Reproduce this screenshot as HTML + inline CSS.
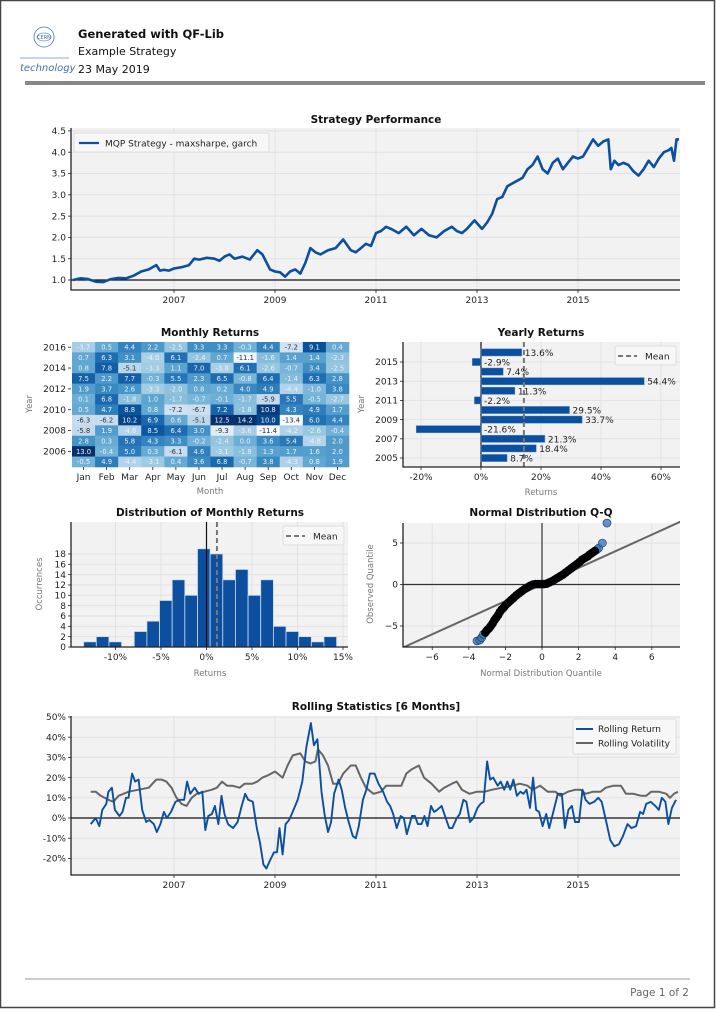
<!DOCTYPE html>
<html><head><meta charset="utf-8">
<style>
html,body{margin:0;padding:0;background:#fff;}
body{width:716px;height:1009px;overflow:hidden;position:relative;font-family:"DejaVu Sans","Liberation Sans",sans-serif;}
svg text{font-family:"DejaVu Sans","Liberation Sans",sans-serif;}
</style></head>
<body>
<svg id="page" width="716" height="1009" viewBox="0 0 716 1009" xmlns="http://www.w3.org/2000/svg">
<rect x="0.5" y="0.5" width="714" height="1007" fill="#fff" stroke="#444" stroke-width="1.5"/>
<g>
  <g>
    <circle cx="44" cy="37" r="10" fill="none" stroke="#6a8fc0" stroke-width="1"/>
    <ellipse cx="44" cy="37" rx="7" ry="4" fill="none" stroke="#6a8fc0" stroke-width="0.7"/>
    <text x="44" y="39" font-size="5" text-anchor="middle" fill="#4a6fa8">CERN</text>
    <line x1="20" y1="58" x2="69" y2="58" stroke="#6a8fc0" stroke-width="0.7"/>
    <text x="20" y="71" font-size="10" font-style="italic" fill="#4a6fa8">technology</text>
  </g>
  <text x="78" y="38" font-size="11.5" font-weight="bold" fill="#111">Generated with QF-Lib</text>
  <text x="78" y="55" font-size="11" fill="#111">Example Strategy</text>
  <text x="78" y="73" font-size="11" fill="#111">23 May 2019</text>
  <rect x="25" y="81" width="680" height="4" fill="#888"/>
</g>
<g id="charts"></g>
<line x1="25" y1="979" x2="690" y2="979" stroke="#999" stroke-width="1"/>
<text x="689" y="996" font-size="10.5" fill="#666" text-anchor="end">Page 1 of 2</text>
</svg>
<script>
// ---------- DATA ----------
const perfYears = [2005.0,2005.15,2005.3,2005.45,2005.6,2005.75,2005.9,2006.05,2006.2,2006.35,2006.5,2006.65,2006.72,2006.8,2006.9,2007.0,2007.15,2007.3,2007.4,2007.5,2007.65,2007.8,2007.9,2008.0,2008.1,2008.2,2008.35,2008.5,2008.65,2008.75,2008.9,2009.0,2009.1,2009.2,2009.3,2009.4,2009.5,2009.6,2009.7,2009.8,2009.9,2010.05,2010.2,2010.35,2010.5,2010.6,2010.7,2010.8,2010.9,2011.0,2011.1,2011.2,2011.3,2011.45,2011.6,2011.75,2011.9,2012.05,2012.2,2012.35,2012.5,2012.6,2012.7,2012.8,2012.95,2013.1,2013.2,2013.3,2013.4,2013.5,2013.6,2013.75,2013.9,2014.0,2014.1,2014.2,2014.3,2014.4,2014.5,2014.6,2014.7,2014.8,2014.9,2015.0,2015.1,2015.2,2015.3,2015.4,2015.5,2015.6,2015.65,2015.72,2015.8,2015.9,2016.0,2016.1,2016.2,2016.3,2016.4,2016.5,2016.6,2016.7,2016.8,2016.85,2016.9,2016.95,2017.0];
const perfValues = [1.0,1.04,1.02,0.96,0.95,1.02,1.05,1.04,1.1,1.2,1.25,1.35,1.22,1.24,1.22,1.27,1.3,1.35,1.5,1.48,1.52,1.5,1.45,1.55,1.6,1.5,1.55,1.48,1.7,1.6,1.25,1.2,1.18,1.08,1.2,1.25,1.15,1.4,1.75,1.65,1.6,1.7,1.75,1.95,1.7,1.65,1.75,1.85,1.8,2.1,2.15,2.25,2.2,2.1,2.25,2.05,2.2,2.05,2.0,2.15,2.25,2.15,2.1,2.2,2.4,2.2,2.35,2.55,2.9,2.95,3.2,3.3,3.4,3.6,3.7,3.9,3.6,3.5,3.75,3.85,3.6,3.75,3.9,3.85,3.9,4.1,4.3,4.15,4.25,4.3,3.6,3.8,3.7,3.75,3.7,3.55,3.45,3.6,3.8,3.65,3.85,4.0,4.05,4.1,3.8,4.3,4.3];
const perfTicksY = [1.0,1.5,2.0,2.5,3.0,3.5,4.0,4.5];
const yearTicks = [2007,2009,2011,2013,2015];

const heatYears = [2016,2015,2014,2013,2012,2011,2010,2009,2008,2007,2006,2005];
const monthNames = ["Jan","Feb","Mar","Apr","May","Jun","Jul","Aug","Sep","Oct","Nov","Dec"];
const heatValues = [
[-3.7,0.5,4.4,2.2,-2.5,3.3,3.3,-0.3,4.4,-7.2,9.1,0.4],
[0.7,6.3,3.1,-4.0,6.1,-2.4,0.7,-11.1,-1.6,1.4,1.4,-2.3],
[0.8,7.8,-5.1,-3.3,1.1,7.0,-3.8,6.1,-2.6,-0.7,3.4,-2.5],
[7.5,2.2,7.7,-0.3,5.5,2.3,6.5,-0.8,6.4,-1.4,6.3,2.8],
[1.9,3.7,2.6,-3.3,-2.0,0.8,0.2,4.0,4.9,-4.4,-1.0,3.8],
[0.1,6.8,-1.8,1.0,-1.7,-0.7,-0.1,-1.7,-5.9,5.5,-0.5,-2.7],
[0.5,4.7,8.8,0.8,-7.2,-6.7,7.2,-1.8,10.8,4.3,4.9,1.7],
[-6.3,-6.2,10.2,6.9,0.6,-5.1,12.5,14.2,10.0,-13.4,6.0,4.4],
[-5.8,1.9,-4.6,8.5,6.4,3.0,-9.3,-3.6,-11.4,-4.2,-2.6,-0.4],
[2.8,0.3,5.8,4.3,3.3,-0.2,-2.4,-0.0,3.6,5.4,-4.8,2.0],
[13.0,-0.4,5.0,0.3,-6.1,4.6,-3.1,-1.8,1.3,1.7,1.6,2.0],
[-0.5,4.9,-4.4,-3.1,0.4,3.6,6.8,-0.7,3.8,-4.3,0.8,1.9]];
const heatYearTicks = [2016,2014,2012,2010,2008,2006];

const yearlyYears = [2005,2006,2007,2008,2009,2010,2011,2012,2013,2014,2015,2016];
const yearlyValues = [8.7,18.4,21.3,-21.6,33.7,29.5,-2.2,11.3,54.4,7.4,-2.9,13.6];
const yearlyMean = 14.3;
const yearlyTicksX = [-20,0,20,40,60];
const yearlyTicksY = [2005,2007,2009,2011,2013,2015];

const histStart = -13.5;
const histWidth = 1.39;
const histCounts = [1,2,1,0,3,5,9,13,10,19,18,13,15,10,13,4,3,2,1,2];
const histMean = 1.15;
const histTicksX = [-10,-5,0,5,10,15];
const histTicksY = [0,2,4,6,8,10,12,14,16,18];

const qqTheory = [-3.55,-3.4,-3.3,-3.2,-3.1,-3.0,-2.9,-2.8,-2.7,-2.6,-2.5,-2.4,-2.3,-2.2,-2.1,-2.0,-1.85,-1.7,-1.55,-1.4,-1.25,-1.1,-0.95,-0.8,-0.65,-0.5,-0.35,-0.2,-0.05,0.1,0.25,0.4,0.55,0.7,0.85,1.0,1.15,1.3,1.45,1.6,1.75,1.9,2.05,2.2,2.35,2.5,2.6,2.7,2.8,2.9,3.0,3.1,3.3,3.55];
const qqObserved = [-6.8,-6.7,-6.4,-6.0,-5.8,-5.5,-5.3,-5.0,-4.7,-4.3,-4.0,-3.7,-3.3,-3.0,-2.8,-2.5,-2.2,-1.9,-1.6,-1.3,-1.05,-0.8,-0.55,-0.35,-0.15,0.0,0.05,0.05,0.05,0.05,0.1,0.25,0.4,0.6,0.8,1.0,1.2,1.45,1.7,1.95,2.2,2.45,2.7,3.0,3.2,3.4,3.6,3.75,3.9,4.05,4.2,4.4,5.0,7.4];
const qqTicksX = [-6,-4,-2,0,2,4,6];
const qqTicksY = [-5,0,5];

const rollRetYears = [2005.35,2005.45,2005.52,2005.58,2005.66,2005.7,2005.77,2005.83,2005.92,2005.98,2006.05,2006.1,2006.17,2006.23,2006.3,2006.37,2006.45,2006.51,2006.6,2006.66,2006.73,2006.8,2006.86,2006.94,2007.03,2007.11,2007.2,2007.26,2007.32,2007.41,2007.49,2007.56,2007.62,2007.68,2007.75,2007.81,2007.88,2007.94,2008.0,2008.07,2008.17,2008.26,2008.34,2008.41,2008.47,2008.56,2008.64,2008.7,2008.77,2008.83,2008.9,2008.98,2009.04,2009.09,2009.15,2009.21,2009.28,2009.35,2009.45,2009.54,2009.62,2009.71,2009.77,2009.84,2009.92,2009.98,2010.05,2010.11,2010.17,2010.26,2010.32,2010.39,2010.46,2010.54,2010.6,2010.66,2010.74,2010.81,2010.88,2010.97,2011.05,2011.14,2011.22,2011.28,2011.34,2011.41,2011.49,2011.55,2011.61,2011.71,2011.77,2011.83,2011.9,2011.96,2012.02,2012.09,2012.15,2012.21,2012.3,2012.38,2012.45,2012.51,2012.6,2012.66,2012.73,2012.79,2012.86,2012.93,2013.01,2013.07,2013.13,2013.2,2013.26,2013.32,2013.41,2013.47,2013.54,2013.6,2013.66,2013.72,2013.79,2013.86,2013.92,2013.98,2014.05,2014.11,2014.17,2014.23,2014.3,2014.37,2014.43,2014.51,2014.6,2014.68,2014.74,2014.81,2014.88,2014.94,2015.02,2015.09,2015.15,2015.23,2015.32,2015.4,2015.47,2015.56,2015.64,2015.72,2015.81,2015.89,2015.98,2016.06,2016.15,2016.23,2016.29,2016.35,2016.44,2016.53,2016.6,2016.66,2016.73,2016.79,2016.86,2016.94];
const rollRetValues = [-3,0,-4,4,7,13,15,4,1,3,10,10,22,18,19,4,-2,-1,-3,-7,-3,3,0,3,8,9,9,18,12,15,12,13,-6,1,2,6,-3,11,2,-3,-5,-2,6,12,9,8,-5,-12,-23,-25,-21,-17,-17,-5,-18,-3,-1,3,9,18,35,47,36,39,13,2,-7,-2,12,19,14,5,-2,-9,-10,-4,9,14,22,22,17,13,8,6,2,-5,1,0,-8,1,1,-3,-3,1,-4,6,3,4,6,0,-5,-5,0,2,9,8,-2,0,5,7,8,28,19,20,16,18,14,18,14,19,11,13,12,14,5,20,4,3,-4,2,-5,3,12,12,-5,4,6,-2,-2,14,9,7,8,10,8,-2,-11,-14,-13,-9,-3,-5,-4,3,2,7,8,6,4,10,8,-3,5,9];
const rollVolYears = [2005.35,2005.45,2005.55,2005.7,2005.8,2005.9,2006.1,2006.3,2006.5,2006.65,2006.75,2006.85,2006.95,2007.05,2007.15,2007.25,2007.35,2007.45,2007.6,2007.75,2007.85,2007.95,2008.05,2008.15,2008.3,2008.4,2008.55,2008.65,2008.75,2008.85,2009.0,2009.15,2009.25,2009.35,2009.5,2009.6,2009.7,2009.8,2009.85,2009.95,2010.05,2010.15,2010.25,2010.35,2010.5,2010.6,2010.7,2010.8,2010.95,2011.1,2011.2,2011.35,2011.5,2011.6,2011.7,2011.85,2011.95,2012.1,2012.25,2012.35,2012.5,2012.6,2012.7,2012.85,2013.0,2013.15,2013.3,2013.5,2013.7,2013.85,2014.0,2014.1,2014.25,2014.4,2014.55,2014.65,2014.8,2014.95,2015.05,2015.15,2015.3,2015.45,2015.55,2015.7,2015.85,2015.95,2016.1,2016.25,2016.35,2016.45,2016.6,2016.75,2016.82,2016.9,2016.98];
const rollVolValues = [13,13,11,9,8,11,13,14,15,19,19,18,15,10,7,6,10,12,13,14,15,18,16,16,15,17,17,18,20,21,23,20,26,31,32,28,27,28,34,31,26,17,17,22,26,26,20,15,12,13,16,16,16,22,24,26,20,17,13,15,17,18,14,12,13,13,14,15,16,17,16,14,16,13,13,11,13,14,14,12,13,13,15,16,16,12,12,11,11,13,13,12,10,12,13];
const rollTicksY = [-20,-10,0,10,20,30,40,50];

// ---------- HELPERS ----------
const NS = "http://www.w3.org/2000/svg";
const root = document.getElementById('charts');
function mk(tag, attrs, parent) {
  const e = document.createElementNS(NS, tag);
  for (const k in attrs) e.setAttribute(k, attrs[k]);
  (parent || root).appendChild(e);
  return e;
}
function txt(s, attrs, parent) { const e = mk('text', attrs, parent); e.textContent = s; return e; }
const BLUE = '#0b4f9e', GREY = '#666', BG = '#f2f2f2', GRID = '#e2e2e2', TICKC = '#222';
const yrX = y => 73 + (y - 2005) * 50.5;

function frame(g, x0, y0, x1, y1) {
  const r = mk('rect', {x:x0, y:y0, width:x1-x0, height:y1-y0, fill:BG}, g);
  
  
}
function spines(g, x0, y0, x1, y1) {
  const s = mk('path', {d:`M${x0},${y0} V${y1} H${x1}`, fill:'none', stroke:'#222', 'stroke-width':1.3}, g);
  
  
}
function title(g, s, x, y) {
  const t = txt(s, {x:x, y:y, 'font-size':10.5, 'font-weight':'bold', 'text-anchor':'middle', fill:'#111'}, g);
  
  
}
function xtick(g, x, y, label) {
  mk('line', {x1:x, x2:x, y1:y, y2:y+3, stroke:TICKC, 'stroke-width':0.8}, g);
  const t = txt(label, {x:x, y:y+13, 'font-size':9, 'text-anchor':'middle', fill:'#222'}, g);
  
  
}
function ytick(g, x, y, label) {
  mk('line', {x1:x-3, x2:x, y1:y, y2:y, stroke:TICKC, 'stroke-width':0.8}, g);
  const t = txt(label, {x:x-5, y:y+3.2, 'font-size':9, 'text-anchor':'end', fill:'#222'}, g);
  
  
}
function axLabel(g, s, x, y, rot) {
  const a = {x:x, y:y, 'font-size':8.5, 'text-anchor':'middle', fill:'#777'};
  if (rot) a.transform = `rotate(-90 ${x} ${y})`;
  const t = txt(s, a, g);
  
  
}

// ---------- STRATEGY PERFORMANCE ----------
(function(){
  const g = mk('g', {});
  
  
  const x0=71, x1=680, y0=128, y1=290;
  const yv = v => 280 - (v - 1.0) * 42.6;
  frame(g, x0, y0, x1, y1);
  title(g, 'Strategy Performance', 376, 123);
  yearTicks.forEach(y => mk('line', {x1:yrX(y), x2:yrX(y), y1:y0, y2:y1, stroke:GRID}, g));
  perfTicksY.forEach(v => mk('line', {x1:x0, x2:x1, y1:yv(v), y2:yv(v), stroke:GRID}, g));
  mk('line', {x1:x0, x2:x1, y1:yv(1), y2:yv(1), stroke:'#111', 'stroke-width':1.3}, g);
  const pts = perfYears.map((y,i) => `${yrX(y).toFixed(1)},${yv(perfValues[i]).toFixed(1)}`).join(' ');
  const line = mk('polyline', {points:pts, fill:'none', stroke:BLUE, 'stroke-width':2.6, 'stroke-linejoin':'round'}, g);
  
  
  spines(g, x0, y0, x1, y1);
  perfTicksY.forEach(v => ytick(g, x0, yv(v), v.toFixed(1)));
  yearTicks.forEach(y => xtick(g, yrX(y), y1, String(y)));
  const lg = mk('g', {}, g);
  
  
  mk('rect', {x:74, y:133, width:195, height:19, fill:'#f7f7f7', stroke:'#ddd', rx:2}, lg);
  mk('line', {x1:79, x2:99, y1:143, y2:143, stroke:BLUE, 'stroke-width':2.2}, lg);
  const lt = txt('MQP Strategy - maxsharpe, garch', {x:105, y:146.5, 'font-size':9, fill:'#222'}, lg);
  
  
})();

// ---------- MONTHLY RETURNS HEATMAP ----------
(function(){
  const g = mk('g', {});
  
  
  const x0=72, y0=342, cw=277/12, ch=125/12;
  title(g, 'Monthly Returns', 210, 336);
  const stops = [[247,251,255],[222,235,247],[198,219,239],[158,202,225],[107,174,214],[66,146,198],[33,113,181],[8,81,156],[8,48,107]];
  function col(v){
    let t = (v + 12) / 24; t = Math.max(0, Math.min(1, t));
    const p = t * 8, i = Math.min(7, Math.floor(p)), f = p - i;
    const c = stops[i].map((a,k) => Math.round(a + (stops[i+1][k]-a)*f));
    return [`rgb(${c.join(',')})`, t];
  }
  heatValues.forEach((row, r) => row.forEach((v, c) => {
    const [fill, t] = col(v);
    const cell = mk('rect', {x:x0+c*cw, y:y0+r*ch, width:cw+0.3, height:ch+0.3, fill:fill}, g);
    
    
    const lab = txt(v.toFixed(1), {x:x0+c*cw+cw/2, y:y0+r*ch+ch/2+2.4, 'font-size':6.8, 'text-anchor':'middle', fill: t < 0.3 ? '#333' : '#e8f0f8'}, g);
    
    
  }));
  heatYearTicks.forEach(y => {
    const r = heatYears.indexOf(y);
    ytick(g, x0-1, y0+r*ch+ch/2, String(y));
  });
  monthNames.forEach((m, c) => xtick(g, x0+c*cw+cw/2, y0+125, m));
  axLabel(g, 'Month', 210, 494, false);
  axLabel(g, 'Year', 32, 404, true);
})();

// ---------- YEARLY RETURNS ----------
(function(){
  const g = mk('g', {});
  
  
  const x0=403, x1=680, y0=342, y1=467;
  const xv = v => 481 + v * 3.0;
  const yy = y => 458 - (y - 2005) * 9.6;
  frame(g, x0, y0, x1, y1);
  title(g, 'Yearly Returns', 541, 336);
  yearlyTicksX.forEach(v => mk('line', {x1:xv(v), x2:xv(v), y1:y0, y2:y1, stroke:GRID}, g));
  yearlyTicksY.forEach(y => mk('line', {x1:x0, x2:x1, y1:yy(y), y2:yy(y), stroke:GRID}, g));
  mk('line', {x1:xv(0), x2:xv(0), y1:y0, y2:y1, stroke:'#111', 'stroke-width':1.2}, g);
  yearlyYears.forEach((y, i) => {
    const v = yearlyValues[i];
    const b = mk('rect', {x:Math.min(xv(0), xv(v)), y:yy(y)-3.6, width:Math.abs(xv(v)-xv(0)), height:7.2, fill:BLUE, stroke:'#5b8fd0', 'stroke-width':0.5}, g);
    
    
  });
  mk('line', {x1:xv(yearlyMean), x2:xv(yearlyMean), y1:y0, y2:y1, stroke:'#777', 'stroke-width':2, 'stroke-dasharray':'5,3'}, g);
  yearlyYears.forEach((y, i) => {
    const v = yearlyValues[i];
    const l = txt(v.toFixed(1) + '%', {x:Math.max(xv(0), xv(v)) + 3, y:yy(y)+3.5, 'font-size':9, fill:'#222'}, g);
    
    
  });
  spines(g, x0, y0, x1, y1);
  yearlyTicksY.forEach(y => ytick(g, x0, yy(y), String(y)));
  yearlyTicksX.forEach(v => xtick(g, xv(v), y1, v + '%'));
  axLabel(g, 'Returns', 541, 495, false);
  axLabel(g, 'Year', 364, 404, true);
  const lg = mk('g', {}, g);
  
  
  mk('rect', {x:615, y:346, width:61, height:19, fill:'#f7f7f7', stroke:'#ddd', rx:2}, lg);
  mk('line', {x1:618, x2:637, y1:356, y2:356, stroke:'#777', 'stroke-width':2, 'stroke-dasharray':'5,3'}, lg);
  const lt = txt('Mean', {x:645, y:359.5, 'font-size':9, fill:'#222'}, lg);
  
  
})();

// ---------- HISTOGRAM ----------
(function(){
  const g = mk('g', {});
  
  
  const x0=71, x1=348, y0=522, y1=647;
  const xv = v => 206.5 + v * 9.1;
  const yc = c => 647 - c * 5.17;
  frame(g, x0, y0, x1, y1);
  title(g, 'Distribution of Monthly Returns', 210, 516);
  histTicksX.forEach(v => mk('line', {x1:xv(v), x2:xv(v), y1:y0, y2:y1, stroke:GRID}, g));
  histTicksY.forEach(c => mk('line', {x1:x0, x2:x1, y1:yc(c), y2:yc(c), stroke:GRID}, g));
  histCounts.forEach((c, i) => {
    const a = histStart + i * histWidth;
    if (!c) return;
    const b = mk('rect', {x:xv(a), y:yc(c), width:histWidth*9.1, height:c*5.17, fill:BLUE, stroke:'#cfdcec', 'stroke-width':0.8}, g);
    
    
  });
  mk('line', {x1:xv(0), x2:xv(0), y1:y0, y2:y1, stroke:'#111', 'stroke-width':1.2}, g);
  mk('line', {x1:xv(histMean), x2:xv(histMean), y1:y0, y2:y1, stroke:'#777', 'stroke-width':2, 'stroke-dasharray':'5,3'}, g);
  spines(g, x0, y0, x1, y1);
  histTicksY.forEach(c => ytick(g, x0, yc(c), String(c)));
  histTicksX.forEach(v => xtick(g, xv(v), y1, v + '%'));
  axLabel(g, 'Returns', 210, 676, false);
  axLabel(g, 'Occurrences', 42, 584, true);
  const lg = mk('g', {}, g);
  
  
  mk('rect', {x:283, y:526, width:61, height:19, fill:'#f7f7f7', stroke:'#ddd', rx:2}, lg);
  mk('line', {x1:286, x2:305, y1:536, y2:536, stroke:'#777', 'stroke-width':2, 'stroke-dasharray':'5,3'}, lg);
  const lt = txt('Mean', {x:313, y:539.5, 'font-size':9, fill:'#222'}, lg);
  
  
})();

// ---------- QQ PLOT ----------
(function(){
  const g = mk('g', {});
  
  
  const x0=403, x1=680, y0=523, y1=647;
  const xv = v => 542 + v * 18.3;
  const yv = v => 584.5 - v * 8.3;
  frame(g, x0, y0, x1, y1);
  title(g, 'Normal Distribution Q-Q', 541, 516);
  qqTicksX.forEach(v => mk('line', {x1:xv(v), x2:xv(v), y1:y0, y2:y1, stroke:GRID}, g));
  qqTicksY.forEach(v => mk('line', {x1:x0, x2:x1, y1:yv(v), y2:yv(v), stroke:GRID}, g));
  mk('line', {x1:xv(0), x2:xv(0), y1:y0, y2:y1, stroke:'#333', 'stroke-width':1.2}, g);
  mk('line', {x1:x0, x2:x1, y1:yv(0), y2:yv(0), stroke:'#333', 'stroke-width':1.2}, g);
  const cp = mk('clipPath', {id:'qqclip'}, g);
  mk('rect', {x:x0, y:y0-6, width:x1-x0, height:y1-y0+6}, cp);
  const inner = mk('g', {'clip-path':'url(#qqclip)'}, g);
  const ref = mk('line', {x1:xv(-8), x2:xv(8), y1:yv(-8*1.0), y2:yv(8*1.0), stroke:'#666', 'stroke-width':2}, inner);
  
  
  qqTheory.forEach((t, i) => {
    const pt = mk('circle', {cx:xv(t), cy:yv(qqObserved[i]), r:4, fill:'#3a78c0', 'fill-opacity':0.8, stroke:'#1a3050', 'stroke-width':0.6}, g);
    
    
  });
  const band = qqTheory.slice(4, 50).map((t,j) => `${xv(t).toFixed(1)},${yv(qqObserved[j+4]).toFixed(1)}`).join(' ');
  const bd = mk('polyline', {points:band, fill:'none', stroke:'#000', 'stroke-width':8, 'stroke-linecap':'round', 'stroke-linejoin':'round'}, g);
  
  
  spines(g, x0, y0, x1, y1);
  qqTicksY.forEach(v => ytick(g, x0, yv(v), v < 0 ? '\u2212' + Math.abs(v) : String(v)));
  qqTicksX.forEach(v => xtick(g, xv(v), y1, v < 0 ? '\u2212' + Math.abs(v) : String(v)));
  axLabel(g, 'Normal Distribution Quantile', 541, 676, false);
  axLabel(g, 'Observed Quantile', 373, 584, true);
})();

// ---------- ROLLING STATS ----------
(function(){
  const g = mk('g', {});
  
  
  const x0=71, x1=680, y0=716, y1=875;
  const yv = v => 818 - v * 2.02;
  frame(g, x0, y0, x1, y1);
  title(g, 'Rolling Statistics [6 Months]', 376, 710);
  yearTicks.forEach(y => mk('line', {x1:yrX(y), x2:yrX(y), y1:y0, y2:y1, stroke:GRID}, g));
  rollTicksY.forEach(v => mk('line', {x1:x0, x2:x1, y1:yv(v), y2:yv(v), stroke:GRID}, g));
  mk('line', {x1:x0, x2:x1, y1:yv(0), y2:yv(0), stroke:'#111', 'stroke-width':1.2}, g);
  const vp = rollVolYears.map((y,i) => `${yrX(y).toFixed(1)},${yv(rollVolValues[i]).toFixed(1)}`).join(' ');
  const vl = mk('polyline', {points:vp, fill:'none', stroke:'#666', 'stroke-width':2, 'stroke-linejoin':'round'}, g);
  
  
  const rp = rollRetYears.map((y,i) => `${yrX(y).toFixed(1)},${yv(rollRetValues[i]).toFixed(1)}`).join(' ');
  const rl = mk('polyline', {points:rp, fill:'none', stroke:BLUE, 'stroke-width':1.9, 'stroke-linejoin':'round'}, g);
  
  
  spines(g, x0, y0, x1, y1);
  rollTicksY.forEach(v => ytick(g, x0, yv(v), v + '%'));
  yearTicks.forEach(y => xtick(g, yrX(y), y1, String(y)));
  const lg = mk('g', {}, g);
  
  
  mk('rect', {x:573, y:719, width:103, height:35, fill:'#f7f7f7', stroke:'#ddd', rx:2}, lg);
  mk('line', {x1:576, x2:593, y1:729, y2:729, stroke:BLUE, 'stroke-width':2}, lg);
  const l1 = txt('Rolling Return', {x:598, y:732, 'font-size':9, fill:'#222'}, lg);
  
  
  mk('line', {x1:576, x2:593, y1:743, y2:743, stroke:'#666', 'stroke-width':2}, lg);
  const l2 = txt('Rolling Volatility', {x:598, y:746.5, 'font-size':9, fill:'#222'}, lg);
  
  
})();
</script>
</body></html>
